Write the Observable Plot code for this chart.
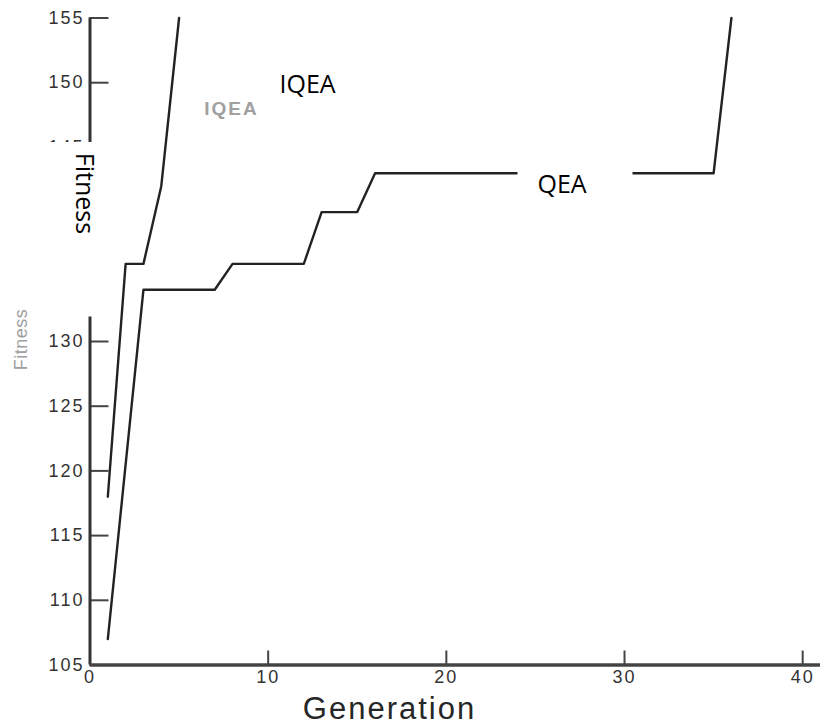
<!DOCTYPE html>
<html><head><meta charset="utf-8">
<script src="https://cdn.jsdelivr.net/npm/d3@7"></script>
<script src="https://cdn.jsdelivr.net/npm/@observablehq/plot@0.6"></script>
<style>
html,body{margin:0;padding:0;background:#fff;}
#chart{width:820px;height:727px;overflow:hidden;}
</style></head><body><div id="chart"></div>
<script>
// ---- data ----
const iqeaGeneration = [1, 2, 3, 4, 5];
const iqeaFitness    = [118, 136, 136, 142, 155];
const qeaGeneration  = [1, 3, 7, 8, 12, 13, 15, 16, 35, 36];
const qeaFitness     = [107, 134, 134, 136, 136, 140, 140, 143, 143, 155];
const xTicks = [0, 10, 20, 30, 40];
const yTicks = [105, 110, 115, 120, 125, 130, 135, 140, 145, 150, 155];
const seriesLabels = ["IQEA", "QEA"];
const xTitle = "Generation";
const yTitle = "Fitness";

const iqea = iqeaGeneration.map((g, i) => ({g, f: iqeaFitness[i]}));
const qea  = qeaGeneration.map((g, i) => ({g, f: qeaFitness[i]}));

// ---- layout ----
const W = 820, H = 727, mL = 89.5, mT = 17.5, mB = 62.5, mR = 0;
const fx0 = mL, fx1 = W - mR, fy0 = mT, fy1 = H - mB;
const box = (x0, y0, x1, y1) => ({insetLeft: x0 - fx0, insetRight: fx1 - x1, insetTop: y0 - fy0, insetBottom: fy1 - y1});
const at = (x, y) => ({frameAnchor: "top-left", dx: x - fx0, dy: y - fy0});
const ink = "#222";

const chart = Plot.plot({
  width: W, height: H,
  marginLeft: mL, marginRight: mR, marginTop: mT, marginBottom: mB,
  style: {fontFamily: "'Liberation Sans', Arial, sans-serif", fontSize: "18px", color: "#333", background: "#fff", overflow: "visible"},
  x: {domain: [0, 41]},
  y: {domain: [105, 155]},
  marks: [
    Plot.axisX({ticks: xTicks, tickSize: -14, tickPadding: 19.5, label: null, stroke: "#444", strokeWidth: 2, fill: "#333", ariaDescription: "xlab"}),
    Plot.axisY({ticks: yTicks, tickSize: -19, tickPadding: 24.5, label: null, stroke: "#444", strokeWidth: 2, fill: "#333", ariaDescription: "ylab"}),
    Plot.ruleX([0], {stroke: "#333", strokeWidth: 3}),
    Plot.ruleY([105], {stroke: "#444", strokeWidth: 3.5}),
    // faint original labels of the scanned figure
    Plot.text([yTitle], {text: d => d, ...at(21, 339), rotate: -90, textAnchor: "middle", lineAnchor: "middle", fontSize: 18, fill: "#a0a0a0", ariaDescription: "orig-y-title"}),
    Plot.text([seriesLabels[0]], {text: d => d, ...at(231, 108), textAnchor: "middle", lineAnchor: "middle", fontSize: 19, fontWeight: "bold", fill: "#a0a0a0", ariaDescription: "orig-legend"}),
    // series
    Plot.line(iqea, {x: "g", y: "f", stroke: ink, strokeWidth: 2.4}),
    Plot.line(qea,  {x: "g", y: "f", stroke: ink, strokeWidth: 2.4}),
    // white patches of the pasted annotations
    Plot.frame({fill: "white", stroke: "none", ...box(0, 141.5, 40, 305)}),
    Plot.frame({fill: "white", stroke: "none", ...box(40, 141.5, 112, 316)}),
    Plot.frame({fill: "white", stroke: "none", ...box(517, 157, 632, 205)}),
    // overlay annotations
    Plot.text([yTitle], {text: d => d, ...at(83, 193), rotate: 90, textAnchor: "middle", lineAnchor: "middle", fontFamily: "'Open Sans', sans-serif", fontSize: 25, fill: "#000"}),
    Plot.text([seriesLabels[0]], {text: d => d, ...at(279, 92), textAnchor: "start", lineAnchor: "bottom", fontFamily: "'Open Sans', sans-serif", fontSize: 25, fill: "#000"}),
    Plot.text([seriesLabels[1]], {text: d => d, ...at(537, 192), textAnchor: "start", lineAnchor: "bottom", fontFamily: "'Open Sans', sans-serif", fontSize: 25, fill: "#000"}),
    Plot.text([xTitle], {text: d => d, ...at(389, 709), textAnchor: "middle", lineAnchor: "middle", fontSize: 31, fill: "#262626", ariaDescription: "x-title"})
  ]
});

document.getElementById("chart").appendChild(chart);
const svg = d3.select(chart);
const spacing = (desc, v) => svg.selectAll(`g[aria-description="${desc}"] text`).style("letter-spacing", v);
spacing("xlab", "2px");
spacing("ylab", "2px");
spacing("x-title", "2px");
spacing("orig-legend", "2px");
spacing("orig-y-title", "0.5px");
</script>
</body></html>
